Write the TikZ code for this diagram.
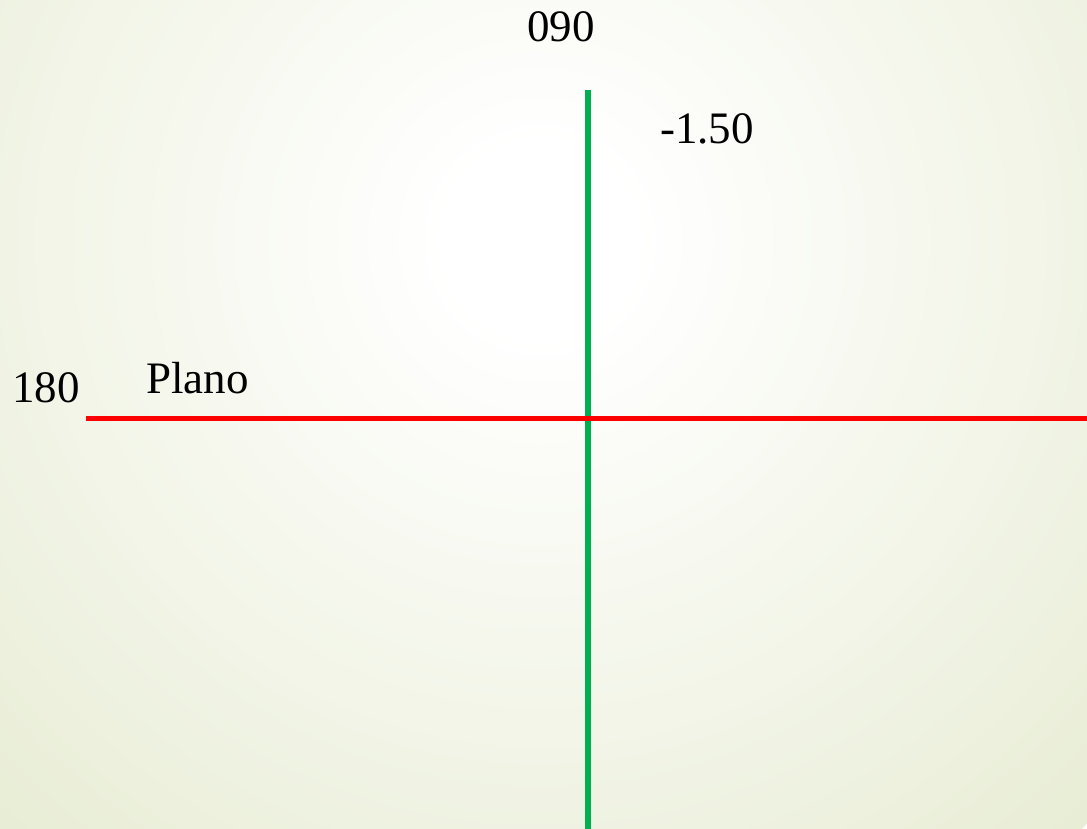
\documentclass[tikz,border=0pt]{standalone}
\usepackage{fontspec}
\setmainfont{Liberation Serif}
\usetikzlibrary{positioning}
\definecolor{bgedge}{RGB}{232,237,213}
\definecolor{axisgreen}{RGB}{0,176,80}
\definecolor{axisred}{RGB}{255,0,0}
\pgfdeclareradialshading{bgglow}{\pgfpoint{0bp}{0bp}}{color(0bp)=(white); color(3bp)=(white); color(25bp)=(bgedge); color(50bp)=(bgedge)}

\begin{document}
\begin{tikzpicture}[
                x=1pt, y=1pt,
                lbl/.style={anchor=base west, inner sep=0pt, font=\fontsize{45}{52}\selectfont},
                vaxis/.style={line width=5.5pt, draw=axisgreen},
                haxis/.style={line width=5.5pt, draw=axisred}
            ]
            \useasboundingbox (0,0) rectangle (1087,-829);
            \begin{scope}
                \clip (0,0) rectangle (1087,-829);
                \shade[shading=bgglow] (540,-240) circle (800);
            \end{scope}
            \coordinate (vtop) at (588,-90);
            \coordinate (vbot) at (588,-829);
            \coordinate (hleft) at (86,-418.5);
            \coordinate (hright) at (1087,-418.5);
            \draw[vaxis] (vtop) -- (vbot);
            \draw[haxis] (hleft) -- (hright);
            \node[lbl] (north) at (527,-42) {090};
            \node[lbl] (depth) at (660,-144) {-1.50};
            \node[lbl] (west)  at (12,-402) {180};
            \node[lbl] (plano) at (146,-393) {Plano};
        \end{tikzpicture}
\end{document}
